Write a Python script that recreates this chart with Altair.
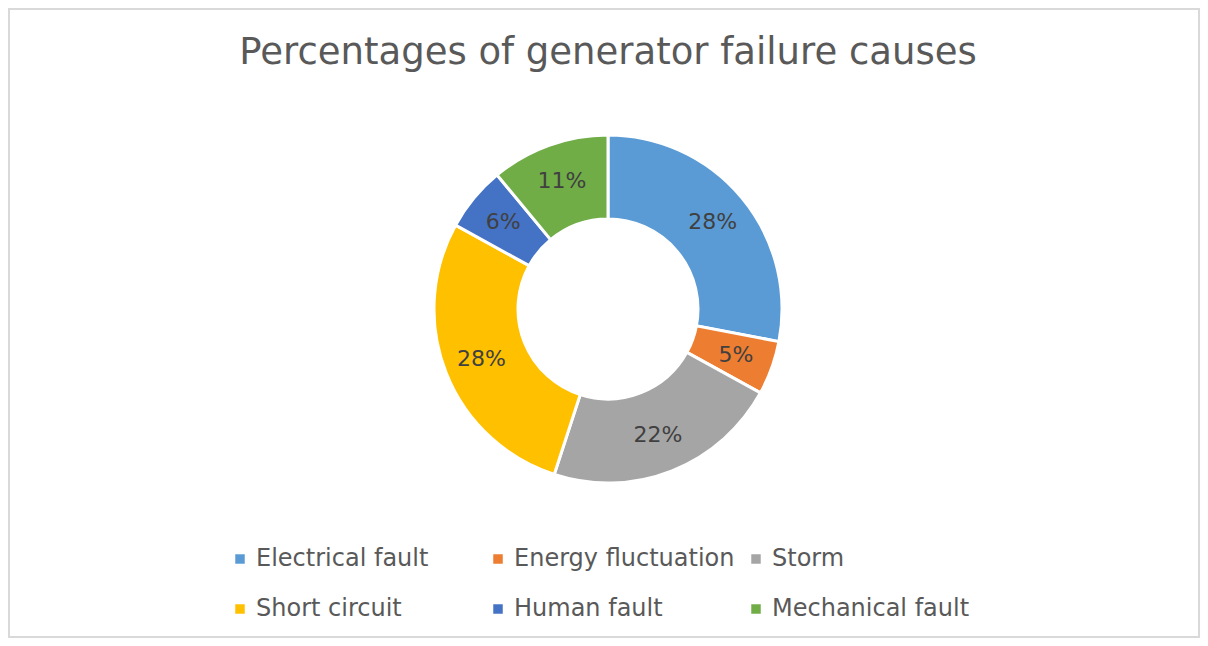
import altair as alt
import pandas as pd

title_text = "Percentages of generator failure causes"
categories = ["Electrical fault", "Energy fluctuation", "Storm",
              "Short circuit", "Human fault", "Mechanical fault"]
values = [28, 5, 22, 28, 6, 11]
colors = ["#5B9BD5", "#ED7D31", "#A5A5A5", "#FFC000", "#4472C4", "#70AD47"]

df = pd.DataFrame({
    "cause": categories,
    "value": values,
    "idx": list(range(len(categories))),
    "label": [f"{v}%" for v in values],
})

W, H = 1192, 630
CX, CY = 600, 301
FONT = "DejaVu Sans"

base = alt.Chart(df).encode(
    theta=alt.Theta("value:Q", stack=True),
    order=alt.Order("idx:Q"),
)

arcs = base.mark_arc(innerRadius=90, outerRadius=174, stroke="white", strokeWidth=3).encode(
    x=alt.value(CX), y=alt.value(CY),
    color=alt.Color(
        "cause:N",
        scale=alt.Scale(domain=categories, range=colors),
        sort=categories,
        legend=alt.Legend(
            orient="none", legendX=220, legendY=539, direction="horizontal",
            columns=3, title=None, symbolType="square", symbolSize=90,
            symbolStrokeWidth=0, labelFontSize=24, labelColor="#595959",
            labelFont=FONT, gridAlign="all", columnPadding=9, rowPadding=26,
            labelOffset=4, labelLimit=400,
        ),
    ),
)

labels = base.mark_text(radius=136, fontSize=22, color="#404040", font=FONT).encode(
    x=alt.value(CX), y=alt.value(CY), text="label:N"
)

border = alt.Chart(alt.Data(values=[{}])).mark_rect(
    fillOpacity=0, stroke="#d9d9d9", strokeWidth=2
).encode(x=alt.value(1), x2=alt.value(W - 1), y=alt.value(1), y2=alt.value(H - 1))

title = alt.Chart(alt.Data(values=[{"t": title_text}])).mark_text(
    fontSize=37, color="#595959", font=FONT, baseline="middle", align="center"
).encode(x=alt.value(CX), y=alt.value(45), text="t:N")

chart = alt.layer(border, arcs, labels, title).properties(
    width=W, height=H, autosize="none", padding=0
).configure_view(stroke=None)

chart.save("out.html", embed_options={"renderer": "svg", "actions": False})
